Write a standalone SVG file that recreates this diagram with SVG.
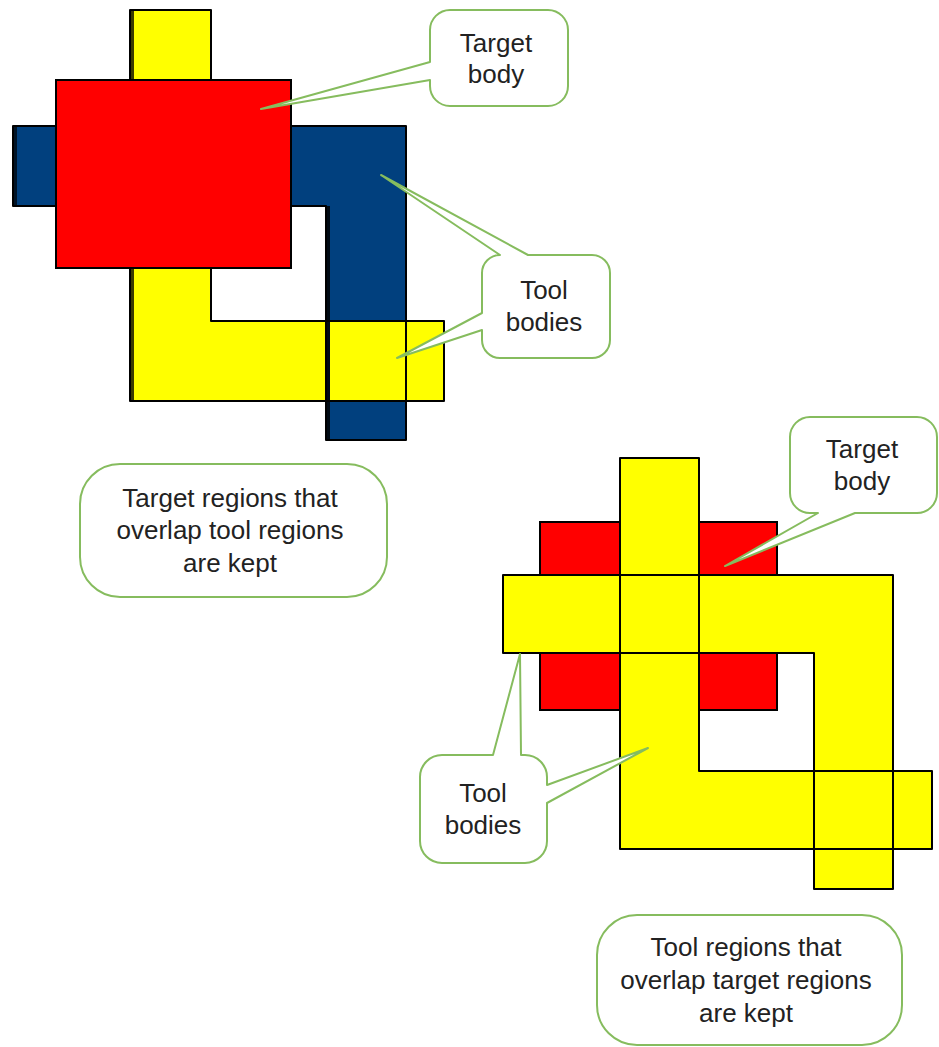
<svg xmlns="http://www.w3.org/2000/svg" width="939" height="1047" viewBox="0 0 939 1047">
  <style>
    .edge{fill:none;stroke:#000;stroke-width:2;stroke-linejoin:round}
    .yellow{fill:#ffff00}
    .blue{fill:#01407e}
    .red{fill:#ff0000;stroke:#000;stroke-width:2}
    .bevel{stroke-width:4;fill:none}
    .callout{fill:#fff;stroke:#86bc5e;stroke-width:2;stroke-linejoin:round}
    .label{font-family:"Liberation Sans",Arial,sans-serif;font-size:26px;fill:#222;text-anchor:middle}
  </style>

  <!-- Upper example: target body over two tool bodies -->
  <g id="example-target-kept">
    <polygon class="blue" points="13,126 406,126 406,440 326,440 326,206 13,206"/>
    <polygon class="yellow" points="130,10 211,10 211,321 444,321 444,401 130,401"/>
    <line class="bevel" x1="15" y1="127" x2="15" y2="205" stroke="#001326"/>
    <line class="bevel" x1="132" y1="11" x2="132" y2="400" stroke="#3c3c00"/>
    <line class="bevel" x1="328" y1="206" x2="328" y2="439" stroke="#000a14"/>
    <polygon class="edge" points="13,126 406,126 406,440 326,440 326,206 13,206"/>
    <polygon class="edge" points="130,10 211,10 211,321 444,321 444,401 130,401"/>
    <rect class="red" x="56" y="80" width="235" height="188"/>
  </g>

  <!-- Lower example: tool bodies over target body -->
  <g id="example-tool-kept">
    <rect class="red" x="540" y="522" width="237" height="188"/>
    <polygon class="yellow" points="503,575 893,575 893,889 814,889 814,653 503,653"/>
    <polygon class="yellow" points="620,458 699,458 699,771 932,771 932,849 620,849"/>
    <polygon class="edge" points="503,575 893,575 893,889 814,889 814,653 503,653"/>
    <polygon class="edge" points="620,458 699,458 699,771 932,771 932,849 620,849"/>
  </g>

  <!-- Callouts -->
  <g id="callout-target-body-1">
    <path class="callout" d="M450,10 H548 A20,20 0 0 1 568,30 V86 A20,20 0 0 1 548,106 H450 A20,20 0 0 1 430,86 V80 L261,109 L430,62 V30 A20,20 0 0 1 450,10 Z"/>
    <text class="label" x="496" y="52">Target</text>
    <text class="label" x="496" y="83">body</text>
  </g>

  <g id="callout-tool-bodies-1">
    <path class="callout" d="M482,273 A18,18 0 0 1 500,255 L381,175 L528,255 H592 A18,18 0 0 1 610,273 V340 A18,18 0 0 1 592,358 H500 A18,18 0 0 1 482,340 V330 L397,358 L482,313 Z"/>
    <text class="label" x="544" y="299">Tool</text>
    <text class="label" x="544" y="331">bodies</text>
  </g>

  <g id="note-target-kept">
    <rect class="callout" x="80" y="464" width="307" height="133" rx="40" ry="40"/>
    <text class="label" x="230" y="507">Target regions that</text>
    <text class="label" x="230" y="539">overlap tool regions</text>
    <text class="label" x="230" y="572">are kept</text>
  </g>

  <g id="callout-target-body-2">
    <path class="callout" d="M810,417 H917 A20,20 0 0 1 937,437 V493 A20,20 0 0 1 917,513 H855 L725,566 L818,513 H810 A20,20 0 0 1 790,493 V437 A20,20 0 0 1 810,417 Z"/>
    <text class="label" x="862" y="458">Target</text>
    <text class="label" x="862" y="490">body</text>
  </g>

  <g id="callout-tool-bodies-2">
    <path class="callout" d="M442,755 H493 L520,654 L521,755 H525 A22,22 0 0 1 547,777 V785 L648,748 L547,803 V841 A22,22 0 0 1 525,863 H442 A22,22 0 0 1 420,841 V777 A22,22 0 0 1 442,755 Z"/>
    <text class="label" x="483" y="802">Tool</text>
    <text class="label" x="483" y="834">bodies</text>
  </g>

  <g id="note-tool-kept">
    <rect class="callout" x="597" y="915" width="305" height="130" rx="40" ry="40"/>
    <text class="label" x="746" y="956">Tool regions that</text>
    <text class="label" x="746" y="989">overlap target regions</text>
    <text class="label" x="746" y="1022">are kept</text>
  </g>

  <g id="connectors"/>
</svg>
